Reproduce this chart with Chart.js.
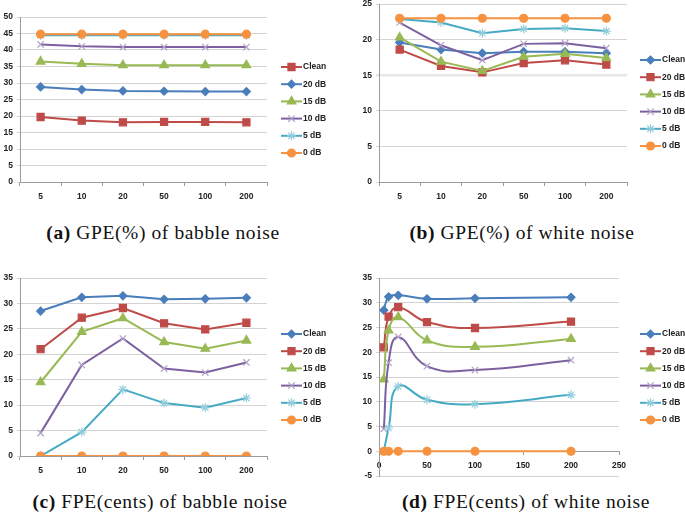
<!DOCTYPE html>
<html>
<head>
<meta charset="utf-8">
<script src="https://cdn.jsdelivr.net/npm/chart.js@4.4.1/dist/chart.umd.min.js"></script>
<style>
  body { margin: 0; background: #fff; }
  #page { position: relative; width: 685px; height: 516px; overflow: hidden; }
  .box { position: absolute; }
  .cap { position: absolute; font-family: "Liberation Serif", serif; font-size: 19.5px; color: #111;
         letter-spacing: 0.6px; white-space: nowrap; transform: translate(-50%, -50%); }
  .cap b { font-weight: bold; }
</style>
</head>
<body>
<div id="page">
  <div class="box" style="left:0;top:0;width:340px;height:210px"><canvas id="gpeBabbleChart"></canvas></div>
  <div class="box" style="left:340px;top:-8px;width:345px;height:218px"><canvas id="gpeWhiteChart"></canvas></div>
  <div class="box" style="left:0;top:262px;width:340px;height:222px"><canvas id="fpeBabbleChart"></canvas></div>
  <div class="box" style="left:340px;top:262px;width:345px;height:225px"><canvas id="fpeWhiteChart"></canvas></div>
  <div class="cap" style="left:163px;top:233px"><b>(a)</b> GPE(%) of babble noise</div>
  <div class="cap" style="left:522px;top:233px"><b>(b)</b> GPE(%) of white noise</div>
  <div class="cap" style="left:160px;top:502px"><b>(c)</b> FPE(cents) of babble noise</div>
  <div class="cap" style="left:526px;top:502px"><b>(d)</b> FPE(cents) of white noise</div>
</div>
<script>
const windowSizes = ['5', '10', '20', '50', '100', '200'];
const windowX = [5, 10, 20, 50, 100, 200];
const noiseLevels = ['Clean', '20 dB', '15 dB', '10 dB', '5 dB', '0 dB'];

// one row per noise level, in the order of noiseLevels
const gpeBabble = [
  [19.7, 18.6, 18.1, 18.2, 18.2, 18.1],
  [28.8, 28.0, 27.6, 27.5, 27.4, 27.4],
  [36.5, 35.8, 35.4, 35.4, 35.4, 35.4],
  [41.7, 41.1, 40.9, 40.9, 40.9, 40.9],
  [44.5, 44.5, 44.5, 44.5, 44.5, 44.5],
  [44.8, 44.8, 44.8, 44.8, 44.8, 44.8]
];
const gpeWhite = [
  [19.6, 18.6, 18.1, 18.3, 18.3, 18.1],
  [18.6, 16.3, 15.4, 16.7, 17.1, 16.5],
  [20.3, 16.9, 15.6, 17.6, 18.0, 17.4],
  [22.4, 19.2, 17.1, 19.4, 19.5, 18.8],
  [22.9, 22.4, 20.9, 21.5, 21.6, 21.2],
  [23.0, 23.0, 23.0, 23.0, 23.0, 23.0]
];
const fpeBabble = [
  [28.5, 31.2, 31.5, 30.8, 30.9, 31.1],
  [21.0, 27.2, 29.1, 26.1, 24.9, 26.2],
  [14.5, 24.4, 27.1, 22.4, 21.1, 22.7],
  [4.5, 17.9, 23.1, 17.2, 16.4, 18.4],
  [0.0, 4.7, 13.1, 10.4, 9.5, 11.4],
  [0.0, 0.0, 0.0, 0.0, 0.0, 0.0]
];
const fpeWhite = fpeBabble;

const gpeTicks = [0, 50, 5];
const gpeWhiteTicks = [0, 25, 5];
const fpeTicks = [0, 35, 5];
const fpeWhiteTicks = [-5, 35, 5];
const fpeWhiteXTicks = [0, 250, 50];

const looks = {
  blue:   { color: '#4a7ebb', point: 'rectRot', r: 4, fill: '#4a7ebb', edge: '#4a7ebb' },
  red:    { color: '#be4b48', point: 'rect', r: 5, fill: '#be4b48', edge: '#be4b48' },
  green:  { color: '#98b954', point: 'triangle', r: 5, fill: '#98b954', edge: '#98b954' },
  purple: { color: '#7d60a0', point: 'crossRot', r: 4.5, fill: 'transparent', edge: '#b3a2c7' },
  cyan:   { color: '#46aac5', point: 'star', r: 4.5, fill: 'transparent', edge: '#93cddd' },
  orange: { color: '#f69240', point: 'circle', r: 4, fill: '#f69240', edge: '#f69240' }
};

function makeSets(rows, styleOrder, xs) {
  return rows.map((row, i) => {
    const s = looks[styleOrder[i]];
    return {
      label: noiseLevels[i],
      data: xs ? row.map((v, j) => ({ x: xs[j], y: v })) : row,
      borderColor: s.color,
      borderWidth: 2,
      pointStyle: s.point,
      pointRadius: s.r,
      pointBackgroundColor: s.fill,
      pointBorderColor: s.edge,
      pointBorderWidth: 1.2,
      tension: 0
    };
  }).reverse();
}

const sideLegend = {
  id: 'sideLegend',
  afterDraw(chart, args, opts) {
    const ctx = chart.ctx;
    const sets = chart.data.datasets.slice().reverse();
    sets.forEach((ds, i) => {
      const y = opts.y + i * opts.step;
      ctx.save();
      ctx.strokeStyle = ds.borderColor;
      ctx.lineWidth = 2;
      ctx.beginPath();
      ctx.moveTo(opts.x, y);
      ctx.lineTo(opts.x + 21, y);
      ctx.stroke();
      ctx.fillStyle = ds.pointBackgroundColor;
      ctx.strokeStyle = ds.pointBorderColor;
      ctx.lineWidth = 1.2;
      Chart.helpers.drawPoint(ctx, { pointStyle: ds.pointStyle, radius: ds.pointRadius, borderWidth: 1.2, rotation: 0 }, opts.x + 10.5, y);
      ctx.fillStyle = '#222';
      ctx.font = 'bold 8.5px "Liberation Sans"';
      ctx.textBaseline = 'middle';
      ctx.textAlign = 'left';
      ctx.fillText(ds.label, opts.x + 22, y);
      ctx.restore();
    });
  }
};

const tickFont = { family: 'Liberation Sans', size: 8.5, weight: 'bold' };
const gridColor = '#d4d4d4';
const axisColor = '#9b9b9b';

function yAxis(t, left) {
  return {
    min: t[0], max: t[1],
    ticks: { stepSize: t[2], font: tickFont, color: '#222', padding: 4 },
    grid: { color: gridColor, tickLength: 3, lineWidth: 1 },
    border: { color: axisColor },
    afterFit(s) { s.width = left; }
  };
}

function drawChart(id, sets, box, legend, scales, smooth) {
  const w = box[0], h = box[1], a = box[2];
  sets.forEach(ds => { ds.tension = smooth ? 0.45 : 0; });
  return new Chart(document.getElementById(id), {
    type: 'line',
    data: { labels: windowSizes, datasets: sets },
    options: {
      responsive: true,
      maintainAspectRatio: false,
      animation: false,
      layout: { padding: { left: 0, top: a.t, right: w - a.r, bottom: scales.xFloat ? h - a.b : 0 } },
      plugins: { legend: { display: false }, tooltip: { enabled: false }, sideLegend: legend },
      scales: scales.build(a, h)
    },
    plugins: [sideLegend]
  });
}

function categoryX(a, h) {
  return {
    type: 'category',
    offset: true,
    ticks: { font: tickFont, color: '#222', padding: 6 },
    grid: { offset: true, drawOnChartArea: false, tickLength: 4, color: axisColor },
    border: { color: axisColor },
    afterFit(s) { s.height = h - a.b; }
  };
}

drawChart('gpeBabbleChart',
  makeSets(gpeBabble, ['red', 'blue', 'green', 'purple', 'cyan', 'orange']),
  [340, 210, { l: 20, t: 17, r: 267, b: 182 }],
  { x: 281, y: 67, step: 17.2 },
  { build: (a, h) => ({ x: categoryX(a, h), y: yAxis(gpeTicks, a.l) }) });

drawChart('gpeWhiteChart',
  makeSets(gpeWhite, ['blue', 'red', 'green', 'purple', 'cyan', 'orange']),
  [345, 218, { l: 39, t: 12, r: 287, b: 190 }],
  { x: 300, y: 68, step: 17.2 },
  { build: (a, h) => {
      const y = yAxis(gpeWhiteTicks, a.l);
      y.grid.lineWidth = c => (c.tick && c.tick.value === 15 ? 2.5 : 1);
      y.grid.color = c => (c.tick && c.tick.value === 15 ? '#e6e6e6' : gridColor);
      return { x: categoryX(a, h), y: y };
    } });

drawChart('fpeBabbleChart',
  makeSets(fpeBabble, ['blue', 'red', 'green', 'purple', 'cyan', 'orange']),
  [340, 222, { l: 20, t: 16, r: 267, b: 194 }],
  { x: 281, y: 72, step: 17.2 },
  { build: (a, h) => ({ x: categoryX(a, h), y: yAxis(fpeTicks, a.l) }) });

drawChart('fpeWhiteChart',
  makeSets(fpeWhite, ['blue', 'red', 'green', 'purple', 'cyan', 'orange'], windowX),
  [345, 225, { l: 39, t: 16, r: 279, b: 214 }],
  { x: 300, y: 72, step: 17.2 },
  { xFloat: true,
    build: (a, h) => ({
      x: {
        type: 'linear',
        position: { y: 0 },
        min: fpeWhiteXTicks[0], max: fpeWhiteXTicks[1],
        ticks: { stepSize: fpeWhiteXTicks[2], font: tickFont, color: '#222', padding: 6 },
        grid: { drawOnChartArea: false, tickLength: 3, color: axisColor },
        border: { color: axisColor }
      },
      y: yAxis(fpeWhiteTicks, a.l)
    }) },
  true);
</script>
</body>
</html>
